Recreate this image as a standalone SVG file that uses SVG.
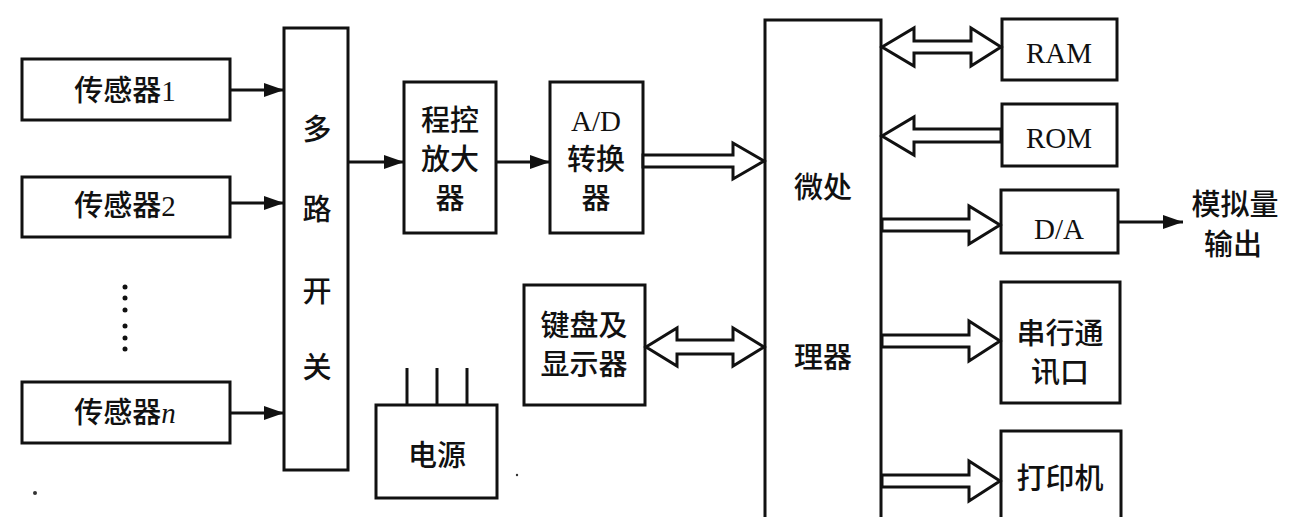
<svg xmlns="http://www.w3.org/2000/svg" width="1300" height="517" viewBox="0 0 1300 517">
<style>
.box{fill:#fff;stroke:#111;stroke-width:3}
.t{font-family:"Liberation Serif","Noto Sans CJK SC",serif;font-size:29px;fill:#111;text-anchor:middle}
.c{font-family:"Noto Sans CJK SC",sans-serif;font-size:29px;font-weight:500;fill:#111;text-anchor:middle}
.s{font-family:"Liberation Serif",serif;font-weight:400}
.ln{stroke:#111;stroke-width:3;fill:none}
.hol{fill:#fff;stroke:#111;stroke-width:3;stroke-linejoin:miter}
</style>
<defs>
<marker id="ah" markerUnits="userSpaceOnUse" markerWidth="20" markerHeight="14" refX="20" refY="7" orient="auto">
<path d="M0,0 L20,7 L0,14 z" fill="#111"/>
</marker>
</defs>
<rect width="1300" height="517" fill="#fff"/>

<g id="sensor1"><rect class="box" x="22" y="59" width="208" height="61"/><text class="c" x="125" y="101">传感器<tspan class="s">1</tspan></text></g>
<g id="sensor2"><rect class="box" x="22" y="177" width="208" height="60"/><text class="c" x="125" y="216">传感器<tspan class="s">2</tspan></text></g>
<g id="dots" fill="#111"><circle cx="125" cy="287" r="2.5"/><circle cx="125" cy="298" r="2.5"/><circle cx="125" cy="310" r="2.5"/><circle cx="125" cy="326" r="2.5"/><circle cx="125" cy="338" r="2.5"/><circle cx="125" cy="349" r="2.5"/></g>
<g id="sensorn"><rect class="box" x="22" y="382" width="208" height="61"/><text class="c" x="125" y="423">传感器<tspan class="s" font-style="italic">n</tspan></text></g>

<g id="mux"><rect class="box" x="284" y="28" width="64" height="442"/>
<text class="c" x="317" y="140">多<tspan x="317" dy="80">路</tspan><tspan x="317" dy="82">开</tspan><tspan x="317" dy="76">关</tspan></text></g>

<g id="amp"><rect class="box" x="404" y="82" width="92" height="151"/>
<text class="c" x="450" y="131">程控<tspan x="450" dy="39">放大</tspan><tspan x="450" dy="39">器</tspan></text></g>

<g id="adc"><rect class="box" x="550" y="82" width="93" height="151"/>
<text class="c" x="596" y="131"><tspan class="s">A/D</tspan><tspan x="596" dy="39">转换</tspan><tspan x="596" dy="39">器</tspan></text></g>

<g id="kbd"><rect class="box" x="524" y="285" width="121" height="120"/>
<text class="c" x="584" y="336">键盘及<tspan x="584" dy="39">显示器</tspan></text></g>

<g id="power"><rect class="box" x="376" y="405" width="121" height="93"/>
<line class="ln" x1="407" y1="368" x2="407" y2="405"/><line class="ln" x1="437" y1="368" x2="437" y2="405"/><line class="ln" x1="467" y1="368" x2="467" y2="405"/>
<text class="c" x="437" y="466">电源</text></g>

<g id="cpu"><rect class="box" x="765" y="20" width="116" height="520"/>
<text class="c" x="823" y="198">微处<tspan x="823" dy="170">理器</tspan></text></g>

<g id="ram"><rect class="box" x="1002" y="19" width="115" height="61"/><text class="t" x="1059" y="63">RAM</text></g>
<g id="rom"><rect class="box" x="1002" y="104" width="115" height="62"/><text class="t" x="1059" y="148">ROM</text></g>
<g id="dac"><rect class="box" x="1001" y="190" width="117" height="63"/><text class="t" x="1059" y="239">D/A</text></g>
<g id="analog-out"><text class="c" x="1235" y="215">模拟量<tspan x="1233" dy="40">输出</tspan></text></g>
<g id="serial"><rect class="box" x="1001" y="282" width="119" height="121"/>
<text class="c" x="1060" y="344">串行通<tspan x="1060" dy="39">讯口</tspan></text></g>
<g id="printer"><rect class="box" x="1001" y="431" width="120" height="120"/><text class="c" x="1060" y="489">打印机</text></g>

<g id="connectors">
<line class="ln" x1="230" y1="90" x2="284" y2="90" marker-end="url(#ah)"/>
<line class="ln" x1="230" y1="203" x2="284" y2="203" marker-end="url(#ah)"/>
<line class="ln" x1="230" y1="413" x2="284" y2="413" marker-end="url(#ah)"/>
<line class="ln" x1="348" y1="162" x2="404" y2="162" marker-end="url(#ah)"/>
<line class="ln" x1="496" y1="162" x2="550" y2="162" marker-end="url(#ah)"/>
<line class="ln" x1="1118" y1="222" x2="1183" y2="222" marker-end="url(#ah)"/>
<polygon class="hol" points="643,155 733,155 733,143 764,161 733,179 733,167 643,167"/>
<polygon class="hol" points="646,347 677,328 677,340 733,340 733,328 764,347 733,366 733,354 677,354 677,366"/>
<polygon class="hol" points="882,47 914,28 914,41 971,41 971,28 1001,47 971,66 971,53 914,53 914,66"/>
<polygon class="hol" points="1001,129 914,129 914,117 882,136 914,155 914,142 1001,142"/>
<polygon class="hol" points="882,219 969,219 969,206 1000,225 969,244 969,231 882,231"/>
<polygon class="hol" points="882,335 969,335 969,321 1000,341 969,361 969,347 882,347"/>
<polygon class="hol" points="882,475 969,475 969,461 1000,481 969,501 969,487 882,487"/>
</g>
<g id="specks" fill="#333"><circle cx="35" cy="493" r="2"/><circle cx="517" cy="475" r="1.2"/></g>
</svg>
